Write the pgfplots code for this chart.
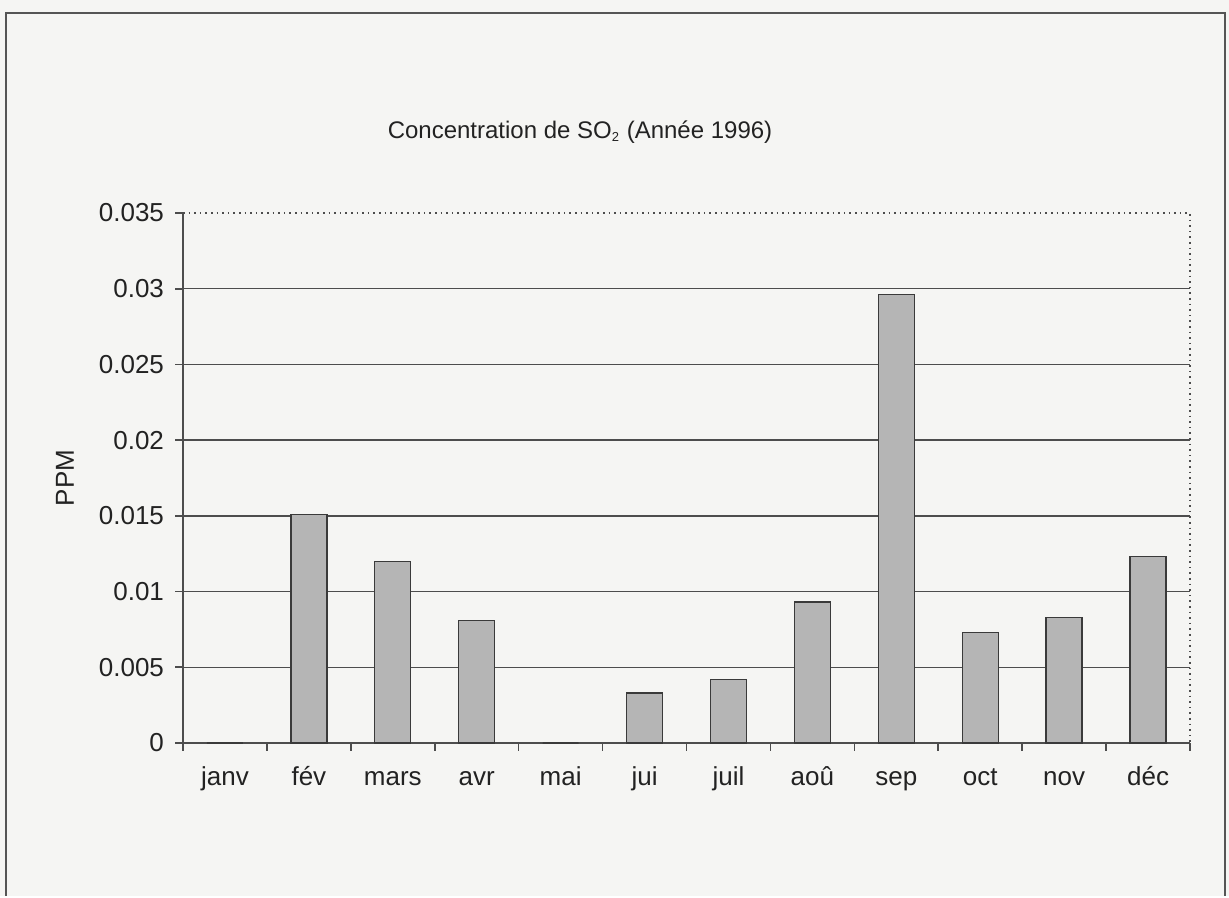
\documentclass[border=0pt]{standalone}
\usepackage{pgfplots}
\pgfplotsset{compat=1.18}
\usepackage{fontspec}
\setmainfont{Liberation Sans}

\definecolor{paper}{HTML}{F5F5F3}
\definecolor{framecol}{HTML}{555555}
\definecolor{barfill}{HTML}{B5B5B5}
\definecolor{baredge}{HTML}{3A3A3A}
\definecolor{gridcol}{HTML}{4D4D4D}
\definecolor{textcol}{HTML}{222222}

% Monthly SO2 concentration, 1996 (PPM)
\pgfplotstableread{
idx month value
0  janv 0
1  fév  0.0151
2  mars 0.0120
3  avr  0.0081
4  mai  0
5  jui  0.0033
6  juil 0.0042
7  aoû  0.0093
8  sep  0.0296
9  oct  0.0073
10 nov  0.0083
11 déc  0.0123
}\sotwo

\begin{document}
\begin{tikzpicture}[x=1pt,y=1pt]
  % page background and surrounding frame
  \fill[paper] (0,0) rectangle (614.5,448);
  \draw[framecol, line width=1.3pt] (3,0) -- (3,441.5) -- (612.5,441.5) -- (612.5,0);

  \node[text=textcol, font=\fontsize{12}{14}\selectfont] at (290,382)
    {Concentration de SO\textsubscript{\fontsize{6.5}{8}\selectfont 2}\ (Année 1996)};
  \node[text=textcol, rotate=90, font=\fontsize{13}{15}\selectfont] at (32.5,209) {PPM};

  \begin{axis}[
    at={(91.5pt,76.5pt)}, anchor=south west,
    scale only axis, width=503.5pt, height=265pt,
    xmin=-0.5, xmax=11.5, ymin=0, ymax=0.035,
    axis lines=left, axis line style={-, gridcol, line width=0.8pt},
    xtick={0,...,11},
    xticklabels={janv,fév,mars,avr,mai,jui,juil,aoû,sep,oct,nov,déc},
    major x tick style={draw=none},
    minor xtick={-0.5,0.5,...,11.5},
    minor x tick style={gridcol, line width=0.8pt},
    minor tick length=4pt,
    ytick={0,0.005,0.01,0.015,0.02,0.025,0.03},
    extra y ticks={0.035},
    extra y tick style={grid=none},
    scaled y ticks=false,
    /pgf/number format/fixed,
    /pgf/number format/precision=3,
    /pgf/number format/assume math mode=true,
    ymajorgrids, major grid style={gridcol, line width=0.7pt},
    major tick length=4pt,
    tick align=outside,
    y tick style={gridcol, line width=0.8pt},
    tick label style={text=textcol, font=\fontsize{13}{15}\selectfont},
    xticklabel style={yshift=-4pt, text height=9.5pt, text depth=3pt},
    yticklabel style={xshift=-2pt},
    clip=false,
  ]
    \addplot[ybar, bar width=18pt, bar shift=0pt, fill=barfill, draw=baredge, line width=0.7pt]
      table[x=idx, y=value] {\sotwo};
    % dotted upper and right border of the plot area
    \draw[gridcol, dotted, line width=0.8pt] (rel axis cs:0,1) -- (rel axis cs:1,1) -- (rel axis cs:1,0);
  \end{axis}
\end{tikzpicture}
\end{document}
